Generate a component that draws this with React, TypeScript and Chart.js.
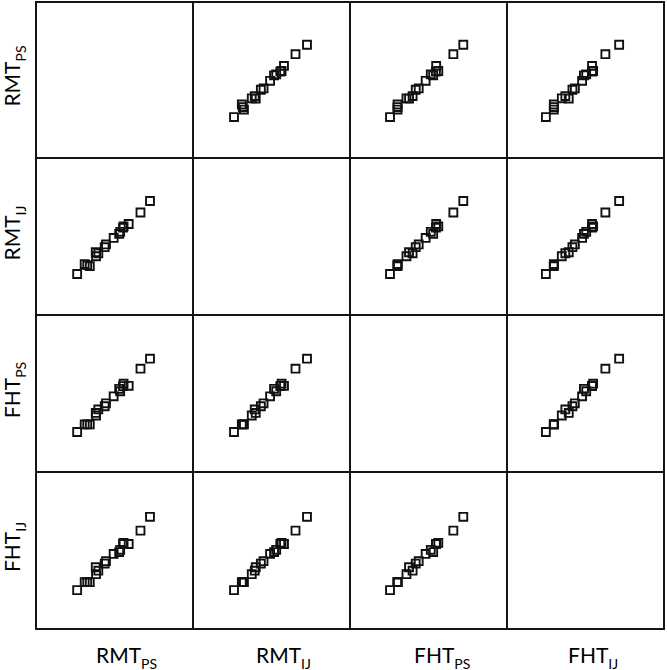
import React, { useEffect, useRef } from "react";
import { Chart, registerables } from "chart.js";

Chart.register(...registerables);

// Variable names (base + subscript)
const labelBase = ["RMT", "RMT", "FHT", "FHT"];
const labelSub = ["PS", "IJ", "PS", "IJ"];

// Per-subject values (arbitrary units)
const rmtPS = [23.7, 32.6, 30.8, 29.0, 37.0, 36.8, 38.6, 43.1, 44.0, 49.4, 53.3, 54.0, 56.0, 56.4, 60.0, 68.3, 75.0];
const rmtIJ = [23.6, 29.1, 29.8, 30.6, 36.1, 38.9, 38.2, 42.5, 44.4, 49.0, 51.8, 53.3, 56.2, 57.1, 58.8, 66.9, 75.0];
const fhtPS = [22.9, 28.2, 28.2, 28.2, 34.5, 36.3, 38.8, 41.0, 43.1, 48.0, 53.3, 51.6, 55.2, 56.9, 55.4, 67.5, 74.5];
const fhtIJ = [22.1, 27.7, 27.7, 27.7, 33.3, 38.2, 35.8, 40.8, 42.5, 47.6, 48.9, 50.5, 54.6, 55.4, 54.6, 64.0, 73.7];

const axisMin = 0;
const axisMax = 100;

const series = [rmtPS, rmtIJ, fhtPS, fhtIJ];

// layout constants
const COL_X = [36, 193, 350, 507, 664];
const ROW_Y = [2, 158, 315, 472, 629];
const BOTTOM_LABEL_LEFT = [96, 256, 414, 568];
const FONT = "Lato, 'Open Sans', sans-serif";
const LINE = "#151515";

function Cell({ xVals, yVals, left, top, width, height }: any) {
  const ref = useRef<HTMLCanvasElement>(null);
  useEffect(() => {
    const chart = new Chart(ref.current as HTMLCanvasElement, {
      type: "scatter",
      data: {
        datasets: [
          {
            data: xVals.map((x: number, i: number) => ({ x, y: yVals[i] })),
            pointStyle: "rect",
            pointRadius: 5.6,
            pointHoverRadius: 5.6,
            borderColor: "#111",
            backgroundColor: "rgba(0,0,0,0)",
            borderWidth: 1.9,
          },
        ],
      },
      options: {
        animation: false,
        responsive: false,
        maintainAspectRatio: false,
        events: [],
        layout: { padding: 0 },
        plugins: { legend: { display: false }, tooltip: { enabled: false } },
        scales: {
          x: { type: "linear", display: false, min: axisMin, max: axisMax },
          y: { type: "linear", display: false, min: axisMin, max: axisMax },
        },
      },
    });
    return () => chart.destroy();
  }, []);
  return (
    <canvas
      ref={ref}
      width={width}
      height={height}
      style={{ position: "absolute", left, top, width, height }}
    />
  );
}

export default function App() {
  const cells: any[] = [];
  for (let r = 0; r < 4; r++) {
    for (let c = 0; c < 4; c++) {
      if (r === c) continue;
      cells.push(
        <Cell
          key={`${r}-${c}`}
          xVals={series[c]}
          yVals={series[r]}
          left={COL_X[c]}
          top={ROW_Y[r]}
          width={COL_X[c + 1] - COL_X[c]}
          height={ROW_Y[r + 1] - ROW_Y[r]}
        />
      );
    }
  }
  const lines: any[] = [];
  COL_X.forEach((x, i) =>
    lines.push(
      <div key={`v${i}`} style={{ position: "absolute", left: x - 1, top: ROW_Y[0] - 1, width: 2, height: ROW_Y[4] - ROW_Y[0] + 2, background: LINE }} />
    )
  );
  ROW_Y.forEach((y, i) =>
    lines.push(
      <div key={`h${i}`} style={{ position: "absolute", left: COL_X[0] - 1, top: y - 1, width: COL_X[4] - COL_X[0] + 2, height: 2, background: LINE }} />
    )
  );
  const bottomLabels = labelBase.map((b, i) => (
    <div
      key={`bl${i}`}
      style={{ position: "absolute", left: BOTTOM_LABEL_LEFT[i], top: 644, fontFamily: FONT, fontSize: 21, lineHeight: "21px", color: "#000", whiteSpace: "nowrap" }}
    >
      {b}
      <span style={{ fontSize: 14, position: "relative", top: 6 }}>{labelSub[i]}</span>
    </div>
  ));
  const leftLabels = labelBase.map((b, i) => {
    const cy = (ROW_Y[i] + ROW_Y[i + 1]) / 2 - 4;
    return (
      <div
        key={`ll${i}`}
        style={{ position: "absolute", left: 0, top: cy, width: 0, height: 0 }}
      >
        <div
          style={{
            position: "absolute",
            left: 13,
            top: 0,
            transform: "translate(-50%, -50%) rotate(-90deg)",
            fontFamily: FONT,
            fontSize: 21,
            lineHeight: "21px",
            color: "#000",
            whiteSpace: "nowrap",
          }}
        >
          {b}
          <span style={{ fontSize: 14, position: "relative", top: 6 }}>{labelSub[i]}</span>
        </div>
      </div>
    );
  });
  return (
    <div style={{ position: "absolute", left: 0, top: 0, width: 667, height: 670, background: "#fff", overflow: "hidden" }}>
      {cells}
      {lines}
      {bottomLabels}
      {leftLabels}
    </div>
  );
}
